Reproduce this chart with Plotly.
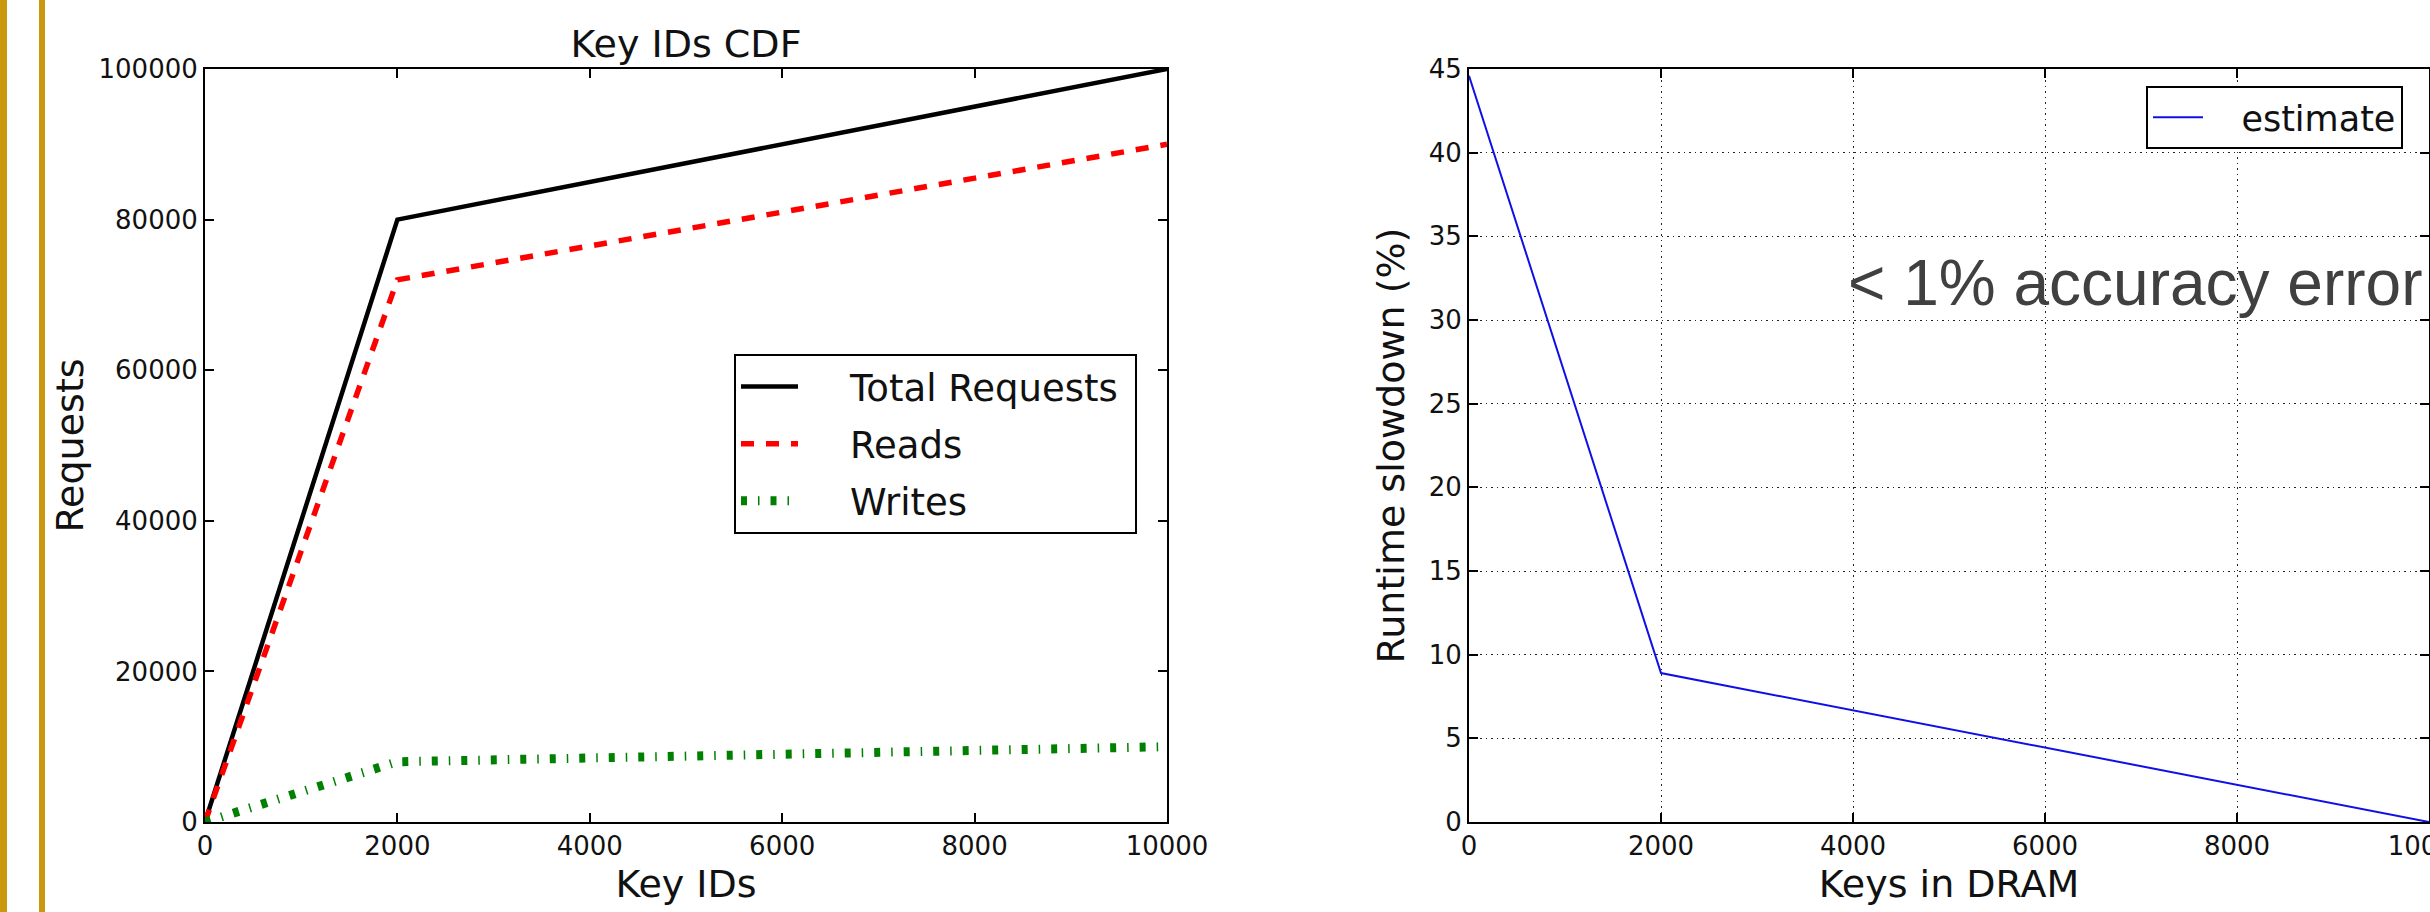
import plotly.graph_objects as go

# ---------------- data ----------------
key_ids = [0, 2000, 10000]
total_requests = [0, 80000, 100000]
reads = [0, 72000, 90000]
writes = [0, 8000, 10000]

keys_in_dram = [0, 2000, 10000]
runtime_slowdown = [44.6, 8.9, 0]

left_xticks = [0, 2000, 4000, 6000, 8000, 10000]
left_yticks = [0, 20000, 40000, 60000, 80000, 100000]
right_xticks = [0, 2000, 4000, 6000, 8000, 10000]
right_yticks = [0, 5, 10, 15, 20, 25, 30, 35, 40, 45]

# ---------------- layout helpers ----------------
W, H = 2430, 912
FONT = "DejaVu Sans"
PAD = "&nbsp;" * 4
GOLD = "#C9980C"


def fx(p):
    return p / W


def fy(p):
    return 1 - p / H


fig = go.Figure()

fig.add_trace(go.Scatter(x=key_ids, y=total_requests, mode="lines",
                         name=PAD + "Total Requests&nbsp;",
                         line=dict(color="#000000", width=4.5),
                         xaxis="x", yaxis="y", legend="legend", legendgroup="g1"))
fig.add_trace(go.Scatter(x=key_ids, y=reads, mode="lines", name=PAD + "Reads",
                         line=dict(color="#ff0000", width=5.5, dash="13px,12px"),
                         xaxis="x", yaxis="y", legend="legend", legendgroup="g2"))
fig.add_trace(go.Scatter(x=key_ids, y=writes, mode="lines", name=PAD + "Writes",
                         line=dict(color="#008000", width=9, dash="6px,11px,1.5px,11px"),
                         xaxis="x", yaxis="y", legend="legend", legendgroup="g3"))
fig.add_trace(go.Scatter(x=keys_in_dram, y=runtime_slowdown, mode="lines",
                         name="&nbsp;" * 3 + "estimate",
                         line=dict(color="#1010e6", width=2),
                         xaxis="x2", yaxis="y2", legend="legend2"))

axis_common = dict(
    ticks="inside", ticklen=9, tickwidth=1.5, tickcolor="#000000",
    showline=True, linecolor="#000000", linewidth=2, mirror="ticks",
    zeroline=False, automargin=False, ticklabeloverflow="allow",
    tickfont=dict(family=FONT, size=26, color="#111111"),
    title_font=dict(family=FONT, size=38, color="#111111"),
)

grid_common = dict(showgrid=True, gridcolor="#222222", gridwidth=1, griddash="1.5px,4px")

fig.update_layout(
    width=W, height=H, autosize=False,
    margin=dict(l=0, r=0, t=0, b=0, pad=0),
    paper_bgcolor="white", plot_bgcolor="white",
    showlegend=True,
    title=dict(text="Key IDs CDF", x=fx(686), xanchor="center", y=fy(44), yanchor="middle",
               yref="container", automargin=False,
               font=dict(family=FONT, size=38, color="#111111")),
    xaxis=dict(domain=[fx(205), fx(1167)], range=[0, 10000], anchor="y",
               tickvals=left_xticks, tickformat="d", showgrid=False,
               title=dict(text="Key IDs", standoff=10), **axis_common),
    yaxis=dict(domain=[fy(822), fy(69)], range=[0, 100000], anchor="x",
               tickvals=left_yticks, tickformat="d", showgrid=False,
               title=dict(text="Requests", standoff=3), **axis_common),
    xaxis2=dict(domain=[fx(1469), fx(2429)], range=[0, 10000], anchor="y2",
                tickvals=right_xticks, tickformat="d",
                title=dict(text="Keys in DRAM", standoff=10), **axis_common, **grid_common),
    yaxis2=dict(domain=[fy(822), fy(69)], range=[0, 45], anchor="x2",
                tickvals=right_yticks, tickformat="d",
                title=dict(text="Runtime slowdown (%)", standoff=12), **axis_common, **grid_common),
    legend=dict(x=fx(734), y=fy(354), xanchor="left", yanchor="top",
                bgcolor="white", bordercolor="#000000", borderwidth=2,
                font=dict(family=FONT, size=37, color="#111111"),
                itemwidth=57, tracegroupgap=6),
    legend2=dict(x=fx(2146), y=fy(86), xanchor="left", yanchor="top",
                 bgcolor="white", bordercolor="#000000", borderwidth=2,
                 font=dict(family=FONT, size=35, color="#111111"),
                 itemwidth=50),
    annotations=[
        dict(text="&lt; 1% accuracy error", xref="x2", yref="y2", x=3930, y=32.2,
             xanchor="left", yanchor="middle", showarrow=False,
             font=dict(family="Liberation Sans", size=64, color="#404040")),
    ],
    shapes=[
        dict(type="line", xref="paper", yref="paper", x0=fx(3.5), x1=fx(3.5), y0=-0.01, y1=1.01,
             line=dict(color=GOLD, width=7), layer="above"),
        dict(type="rect", xref="paper", yref="paper", x0=fx(0), x1=fx(6.5), y0=-0.01, y1=1.01,
             fillcolor=GOLD, line=dict(width=0), layer="above"),
        dict(type="rect", xref="paper", yref="paper", x0=fx(39), x1=fx(45), y0=-0.01, y1=1.01,
             fillcolor=GOLD, line=dict(width=0), layer="above"),
    ],
)

fig.write_html("out.html", config={"displayModeBar": False},
               post_script="document.body.style.margin='0';document.body.style.overflow='hidden';")
